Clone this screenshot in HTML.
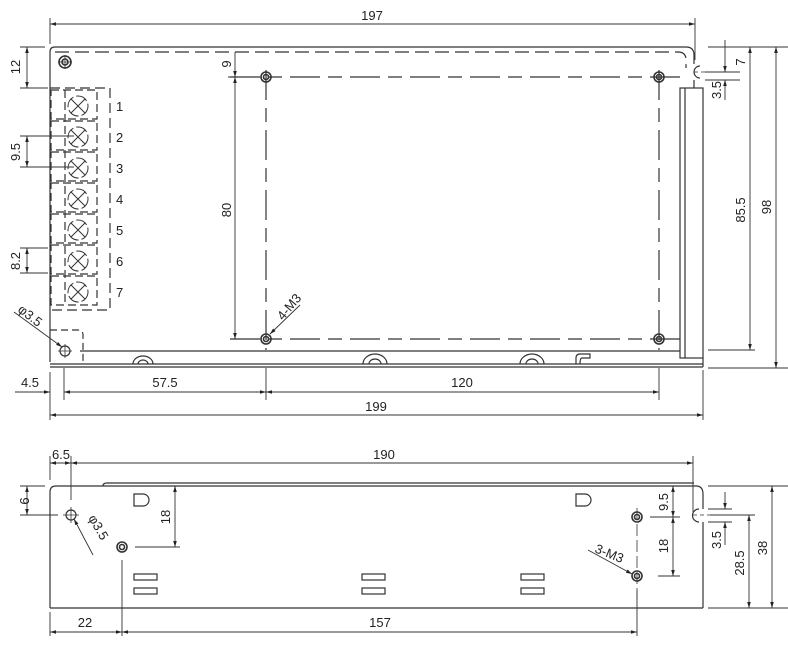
<!DOCTYPE html>
<html><head><style>
html,body{margin:0;padding:0;background:#fff;}
svg{display:block;}
text{font-family:"Liberation Sans",Arial,sans-serif;font-size:13px;fill:#222;}
</style></head><body>
<svg width="788" height="645" viewBox="0 0 788 645" xmlns="http://www.w3.org/2000/svg">
<defs>
<marker id="a" viewBox="0 0 10 6" refX="10" refY="3" markerWidth="8" markerHeight="4" orient="auto-start-reverse"><path d="M0,0L10,3L0,6z" fill="#222"/></marker>
</defs>
<g stroke="#333" stroke-width="1.2" fill="none">
<path d="M50,362 V52 Q50,47 55,47 H686 Q694,47 694,55 V64"/>
<path d="M694,80 V88"/>
<path d="M50,364 H703 M50,367 H703 M703,358 V367"/>
<path d="M80,351 H680"/>
<rect x="680" y="88" width="23" height="270"/>
<path d="M685,88 V358"/>
<path d="M700,66 A6,6 0 1 0 700,78" />
<path d="M694,72 H720" stroke-dasharray="4,3" stroke-width="0.8"/>
<path d="M55,52 H678 Q686,52 686,60 V68" stroke-dasharray="14,6"/>
<path d="M230,77 H680" stroke-dasharray="30,8,14,8"/>
<path d="M230,339 H680" stroke-dasharray="30,8,14,8"/>
<path d="M266,70 V350" stroke-dasharray="30,8,14,8"/>
<path d="M659,70 V350" stroke-dasharray="30,8,14,8"/>
<g stroke-width="1.6">
<circle cx="266" cy="77" r="5"/><circle cx="266" cy="77" r="2.5"/>
<circle cx="659" cy="77" r="5"/><circle cx="659" cy="77" r="2.5"/>
<circle cx="266" cy="339" r="5"/><circle cx="266" cy="339" r="2.5"/>
<circle cx="659" cy="339" r="5"/><circle cx="659" cy="339" r="2.5"/>
<circle cx="65" cy="62" r="6"/><circle cx="65" cy="62" r="3"/>
</g>
<path d="M58,62H72M65,55V69" stroke-width="0.8"/>
<circle cx="65" cy="351" r="5"/><path d="M58,351H72M65,344V358" stroke-width="0.8"/>
<path d="M50,330 H78 Q83,330 83,335 V362" stroke-dasharray="7,4"/>
<path d="M133,364 A10,8 0 0 1 153,364 M138,364 A5,4 0 0 1 148,364"/>
<path d="M363,364 A12,10 0 0 1 387,364 M369,364 A6,5 0 0 1 381,364"/>
<path d="M520,364 A12,10 0 0 1 544,364 M526,364 A6,5 0 0 1 538,364"/>
<path d="M576,364 V358 Q576,354 580,354 H590 V358 H582 Q580,358 580,364"/>
<path d="M50,88 H110 V310 H50" stroke-dasharray="10,5"/>
<g stroke-dasharray="8,4">
<rect x="51" y="90" width="46" height="29"/><rect x="51" y="121" width="46" height="29"/>
<rect x="51" y="152" width="46" height="29"/><rect x="51" y="183" width="46" height="29"/>
<rect x="51" y="214" width="46" height="29"/><rect x="51" y="245" width="46" height="29"/>
<rect x="51" y="276" width="46" height="29"/>
<path d="M65,90V305"/>
</g>
<g stroke-width="1">
<g transform="translate(78,106)"><circle r="10" stroke-dasharray="12,3"/><path d="M-7,-7L7,7M7,-7L-7,7"/></g>
<g transform="translate(78,137)"><circle r="10" stroke-dasharray="12,3"/><path d="M-7,-7L7,7M7,-7L-7,7"/></g>
<g transform="translate(78,168)"><circle r="10" stroke-dasharray="12,3"/><path d="M-7,-7L7,7M7,-7L-7,7"/></g>
<g transform="translate(78,199)"><circle r="10" stroke-dasharray="12,3"/><path d="M-7,-7L7,7M7,-7L-7,7"/></g>
<g transform="translate(78,230)"><circle r="10" stroke-dasharray="12,3"/><path d="M-7,-7L7,7M7,-7L-7,7"/></g>
<g transform="translate(78,261)"><circle r="10" stroke-dasharray="12,3"/><path d="M-7,-7L7,7M7,-7L-7,7"/></g>
<g transform="translate(78,292)"><circle r="10" stroke-dasharray="12,3"/><path d="M-7,-7L7,7M7,-7L-7,7"/></g>
</g>
<g stroke-width="0.9">
<path d="M50,18V44 M695,18V60"/>
<path d="M50,24H695" marker-start="url(#a)" marker-end="url(#a)"/>
<path d="M20,47H45 M20,88H48"/>
<path d="M27,47V88" marker-start="url(#a)" marker-end="url(#a)"/>
<path d="M20,136H74 M20,167H74"/>
<path d="M27,136V167" marker-start="url(#a)" marker-end="url(#a)"/>
<path d="M20,248H48 M20,273H48"/>
<path d="M27,248V273" marker-start="url(#a)" marker-end="url(#a)"/>
<path d="M235,52V77" marker-end="url(#a)"/>
<path d="M228,77H258"/>
<path d="M235,77V339" marker-start="url(#a)" marker-end="url(#a)"/>
<path d="M14,312L62,347" marker-end="url(#a)"/>
<path d="M300,305L270,334" marker-end="url(#a)"/>
<path d="M50,372V420 M64,368V400 M266,368V400 M659,368V400 M703,370V420"/>
<path d="M15,392H50" marker-end="url(#a)"/>
<path d="M64,392H266" marker-start="url(#a)" marker-end="url(#a)"/>
<path d="M266,392H659" marker-start="url(#a)" marker-end="url(#a)"/>
<path d="M50,415H703" marker-start="url(#a)" marker-end="url(#a)"/>
<path d="M708,47H790 M705,72H740 M705,80H740 M708,350H755 M708,368H790"/>
<path d="M725,40V72" marker-end="url(#a)"/>
<path d="M725,100V80" marker-end="url(#a)"/>
<path d="M750,47V350" marker-start="url(#a)" marker-end="url(#a)"/>
<path d="M776,47V368" marker-start="url(#a)" marker-end="url(#a)"/>
</g>
<path d="M50,608 V492 Q50,486 56,486 H696 Q703,486 703,494 V509"/>
<path d="M703,522 V608 M50,608 H703"/>
<path d="M103,486 Q103,483 107,483 H694"/>
<path d="M699,509 A6,6 0 1 0 699,522"/>
<path d="M693,515 H730" stroke-dasharray="4,3" stroke-width="0.8"/>
<circle cx="71" cy="515" r="5"/><path d="M63,515H79M71,507V523" stroke-width="0.8"/>
<g stroke-width="1.6">
<circle cx="122" cy="547" r="5"/><circle cx="122" cy="547" r="2.5"/>
<circle cx="637" cy="517" r="5"/><circle cx="637" cy="517" r="2.5"/>
<circle cx="637" cy="576" r="5"/><circle cx="637" cy="576" r="2.5"/>
</g>
<path d="M637,508V600" stroke-dasharray="12,4" stroke-width="0.8"/>
<path d="M134,494H143A6,6 0 0 1 143,506H134Z"/>
<path d="M576,494H585A6,6 0 0 1 585,506H576Z"/>
<rect x="134" y="574" width="23" height="6"/><rect x="134" y="588" width="23" height="6"/>
<rect x="362" y="574" width="23" height="6"/><rect x="362" y="588" width="23" height="6"/>
<rect x="521" y="574" width="23" height="6"/><rect x="521" y="588" width="23" height="6"/>
<g stroke-width="0.9">
<path d="M50,456V480 M71,456V500 M693,456V512"/>
<path d="M50,463H71" marker-start="url(#a)" marker-end="url(#a)"/>
<path d="M71,463H693" marker-start="url(#a)" marker-end="url(#a)"/>
<path d="M20,486H45 M20,515H58"/>
<path d="M27,486V515" marker-start="url(#a)" marker-end="url(#a)"/>
<path d="M135,547H180"/>
<path d="M175,486V547" marker-start="url(#a)" marker-end="url(#a)"/>
<path d="M93,555L74,519" marker-end="url(#a)"/>
<path d="M588,550L632,574" marker-end="url(#a)"/>
<path d="M50,612V636 M122,560V636 M637,590V636"/>
<path d="M50,632H122" marker-start="url(#a)" marker-end="url(#a)"/>
<path d="M122,632H637" marker-start="url(#a)" marker-end="url(#a)"/>
<path d="M650,517H680 M658,576H680 M673,486H680"/>
<path d="M673,486V517" marker-start="url(#a)" marker-end="url(#a)"/>
<path d="M673,517V576" marker-start="url(#a)" marker-end="url(#a)"/>
<path d="M708,509H732 M708,522H732 M710,515H755 M708,486H790 M708,608H790"/>
<path d="M725,492V509" marker-end="url(#a)"/>
<path d="M725,545V522" marker-end="url(#a)"/>
<path d="M749,515V608" marker-start="url(#a)" marker-end="url(#a)"/>
<path d="M772,486V608" marker-start="url(#a)" marker-end="url(#a)"/>
</g>
</g>
<text x="372" y="20" text-anchor="middle">197</text>
<text transform="translate(20,67) rotate(-90)" text-anchor="middle">12</text>
<text transform="translate(20,152) rotate(-90)" text-anchor="middle">9.5</text>
<text transform="translate(20,261) rotate(-90)" text-anchor="middle">8.2</text>
<text x="116" y="111">1</text><text x="116" y="142">2</text><text x="116" y="173">3</text>
<text x="116" y="204">4</text><text x="116" y="235">5</text><text x="116" y="266">6</text><text x="116" y="297">7</text>
<text transform="translate(231,64) rotate(-90)" text-anchor="middle">9</text>
<text transform="translate(231,210) rotate(-90)" text-anchor="middle">80</text>
<text transform="translate(17,311) rotate(38)">φ3.5</text>
<text transform="translate(283,321) rotate(-50)">4-M3</text>
<text x="30" y="387" text-anchor="middle">4.5</text>
<text x="165" y="387" text-anchor="middle">57.5</text>
<text x="462" y="387" text-anchor="middle">120</text>
<text x="376" y="411" text-anchor="middle">199</text>
<text transform="translate(745,62) rotate(-90)" text-anchor="middle">7</text>
<text transform="translate(721,90) rotate(-90)" text-anchor="middle">3.5</text>
<text transform="translate(745,210) rotate(-90)" text-anchor="middle">85.5</text>
<text transform="translate(771,207) rotate(-90)" text-anchor="middle">98</text>
<text x="61" y="459" text-anchor="middle">6.5</text>
<text x="384" y="459" text-anchor="middle">190</text>
<text transform="translate(20,501) rotate(90)" text-anchor="middle">9</text>
<text transform="translate(170,517) rotate(-90)" text-anchor="middle">18</text>
<text transform="translate(88,518) rotate(60)">φ3.5</text>
<text transform="translate(594,552) rotate(22)">3-M3</text>
<text x="85" y="627" text-anchor="middle">22</text>
<text x="380" y="627" text-anchor="middle">157</text>
<text transform="translate(668,502) rotate(-90)" text-anchor="middle">9.5</text>
<text transform="translate(668,546) rotate(-90)" text-anchor="middle">18</text>
<text transform="translate(721,540) rotate(-90)" text-anchor="middle">3.5</text>
<text transform="translate(744,563) rotate(-90)" text-anchor="middle">28.5</text>
<text transform="translate(767,548) rotate(-90)" text-anchor="middle">38</text>
</svg>
</body></html>
